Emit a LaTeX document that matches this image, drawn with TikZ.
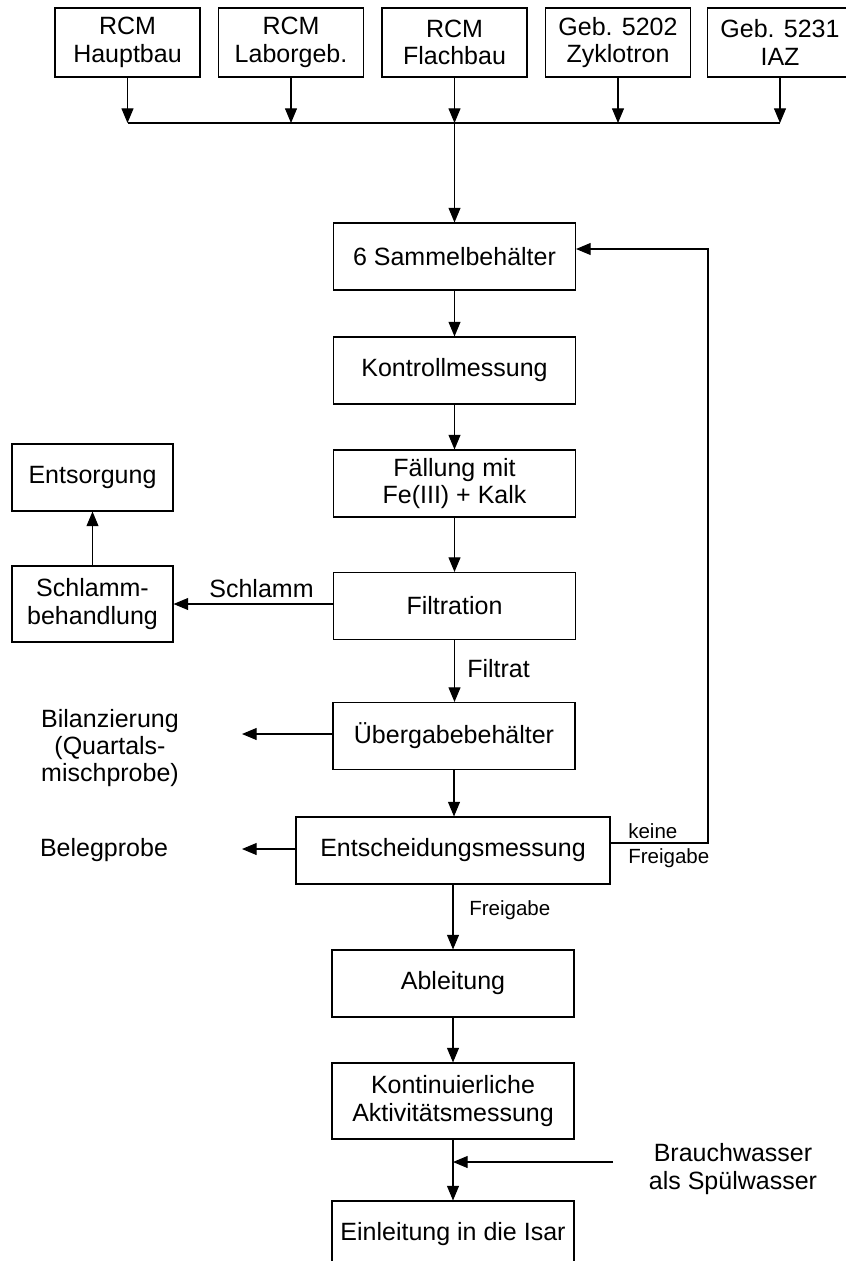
\documentclass[tikz,border=0pt]{standalone}
\usepackage{fontspec}
\setmainfont{Liberation Sans}
\usetikzlibrary{arrows.meta}
\begin{document}
\begin{tikzpicture}[x=0.75pt,y=-0.75pt,
  box/.style={draw, line width=0.8pt, inner sep=0pt, align=center,
    font=\fontsize{18.75pt}{20.6pt}\selectfont},
  topbox/.style={box, minimum width=108.75pt, minimum height=51.75pt},
  midbox/.style={box, minimum width=181.5pt, minimum height=50.25pt},
  sidebox/.style={box, minimum width=120.75pt, minimum height=50.25pt},
  arr/.style={-{Triangle[length=11pt,width=9pt]}, line width=0.8pt},
  ln/.style={line width=0.8pt},
  lbl/.style={inner sep=0pt, align=center, font=\fontsize{18.75pt}{20.3pt}\selectfont},
  small/.style={inner sep=0pt, font=\fontsize{15.4pt}{18pt}\selectfont}]
\path[use as bounding box] (0,0) rectangle (846,1261);
\clip (0,0) rectangle (846,1261);

% top sources
\node[topbox] (t1) at (127.5,42.5) {RCM\\Hauptbau};
\node[topbox] (t2) at (291,42.5) {RCM\\Laborgeb.};
\node[topbox] (t3) at (454.5,42.5) {RCM\\Flachbau};
\node[topbox] (t4) at (618,42.5) {Geb. 5202\\Zyklotron};
\node[topbox] (t5) at (780,42.5) {Geb. 5231\\IAZ};
\coordinate (bus) at (454.5,123);

% main column
\node[midbox] (sam) at (454.5,256.5) {6 Sammelbehälter};
\node[midbox] (kon) at (454.5,370.5) {Kontrollmessung};
\node[midbox] (fae) at (454.5,483.5) {Fällung mit\\Fe(III) + Kalk};
\node[midbox] (fil) at (454.5,606) {Filtration};
\node[midbox] (ueb) at (454,736) {Übergabebehälter};
\node[box, minimum width=235.5pt, minimum height=50.25pt] (ent) at (453,850.5) {Entscheidungsmessung};
\node[midbox] (abl) at (453,983.5) {Ableitung};
\node[midbox, minimum height=57pt] (kont) at (453,1101) {Kontinuierliche\\Aktivitätsmessung};
\node[midbox] (einl) at (453,1234.5) {Einleitung in die Isar};

% side boxes
\node[sidebox] (eso) at (92.5,477.5) {Entsorgung};
\node[sidebox, minimum height=57pt] (sch) at (92.5,604) {Schlamm-\\behandlung};

% side texts
\node[lbl] (bil) at (110,748) {Bilanzierung\\(Quartals-\\mischprobe)};
\node[lbl] (bel) at (104,850) {Belegprobe};
\node[lbl] (brw) at (733,1169) {Brauchwasser\\als Spülwasser};

% coordinates
\coordinate (bilA) at (242,734);
\coordinate (belA) at (242,849);
\coordinate (fbR) at (708,843);
\coordinate (fbT) at (708,249);
\coordinate (bwS) at (613,1162);

% connectors top
\foreach \n in {t1,t2,t3,t4,t5}{
  \draw[arr] (\n.south) -- (\n.south |- bus);
}
\draw[ln] (t1.south |- bus) -- (t5.south |- bus);
\draw[arr] (bus) -- (sam.north);

% main flow
\draw[arr] (sam.south) -- (sam.south |- kon.north);
\draw[arr] (kon.south) -- (kon.south |- fae.north);
\draw[arr] (fae.south) -- (fae.south |- fil.north);
\draw[arr] (fil.south) -- (fil.south |- ueb.north);
\draw[arr] (ueb.south) -- (ueb.south |- ent.north);
\draw[arr] (ent.south -| abl.north) -- (abl.north);
\draw[arr] (abl.south) -- (kont.north);
\draw[arr] (kont.south) -- (einl.north);

% branches
\draw[arr] (fil.west |- sch.east) -- (sch.east);
\draw[arr] (sch.north) -- (eso.south);
\draw[arr] (ueb.west |- bilA) -- (bilA);
\draw[arr] (ent.west |- belA) -- (belA);
\draw[arr] (ent.east |- fbR) -- (fbR) -- (fbT) -- (fbT -| sam.east);
\draw[arr] (bwS) -- (bwS -| kont.south);

% labels
\node[lbl, anchor=base] (lsch) at (261.5,597) {Schlamm};
\node[lbl, anchor=base west] (lfil) at (467,677) {Filtrat};
\node[small, anchor=base west] (lk1) at (628,838) {keine};
\node[small, anchor=base west] (lk2) at (628,863) {Freigabe};
\node[small, anchor=base west] (lfr) at (469,915) {Freigabe};
\end{tikzpicture}
\end{document}
